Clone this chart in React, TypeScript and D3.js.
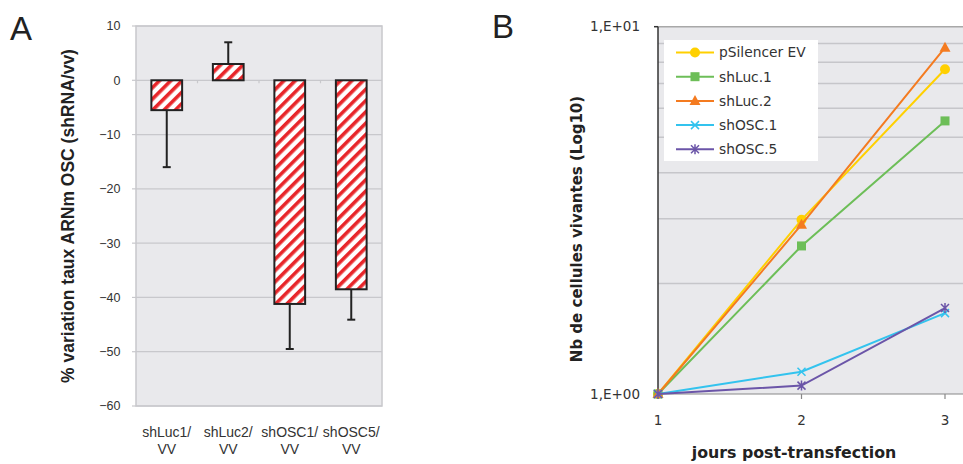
import React from "react";
import * as d3 from "d3";

// Panel A: knockdown of OSC mRNA relative to vv
const categoriesA = ["shLuc1/|VV", "shLuc2/|VV", "shOSC1/|VV", "shOSC5/|VV"];
const valuesA = [-5.5, 3, -41.2, -38.5];
const errorEndsA = [-16, 7, -49.5, -44.1];
const ticksA = [10, 0, -10, -20, -30, -40, -50, -60];

// Panel B: viable cell counts over days post-transfection
const daysB = [1, 2, 3];
const seriesNamesB = ["pSilencer EV", "shLuc.1", "shLuc.2", "shOSC.1", "shOSC.5"];
const pSilencerEV = [1, 2.98, 7.66];
const shLuc1 = [1, 2.53, 5.54];
const shLuc2 = [1, 2.89, 8.77];
const shOSC1 = [1, 1.15, 1.66];
const shOSC5 = [1, 1.054, 1.714];
const seriesValuesB = [pSilencerEV, shLuc1, shLuc2, shOSC1, shOSC5];
const seriesColorsB = ["#FFD000", "#6DBE58", "#F47B20", "#33C3EE", "#6B55A8"];
const seriesMarkersB = ["circle", "square", "triangle", "x", "star"];
const yTickLabelsB = ["1,E+00", "1,E+01"];

const fontA = "'Liberation Sans', Arial, sans-serif";
const fontB = "'DejaVu Sans', Verdana, sans-serif";

function Marker({ kind, x, y, color }: { kind: string; x: number; y: number; color: string }) {
  if (kind === "circle") return <circle cx={x} cy={y} r={5} fill={color} />;
  if (kind === "square") return <rect x={x - 4.5} y={y - 4.5} width={9} height={9} fill={color} />;
  if (kind === "triangle")
    return <path d={`M${x},${y - 6}L${x + 5.5},${y + 4}L${x - 5.5},${y + 4}Z`} fill={color} />;
  if (kind === "x")
    return (
      <path d={`M${x - 4},${y - 4}L${x + 4},${y + 4}M${x - 4},${y + 4}L${x + 4},${y - 4}`} stroke={color} strokeWidth={1.5} />
    );
  return (
    <path
      d={`M${x - 4},${y - 4}L${x + 4},${y + 4}M${x - 4},${y + 4}L${x + 4},${y - 4}M${x},${y - 5}L${x},${y + 5}`}
      stroke={color}
      strokeWidth={1.5}
    />
  );
}

function PanelA() {
  const left = 136, right = 382, top = 26, bottom = 406;
  const y = d3.scaleLinear().domain([-60, 10]).range([bottom, top]);
  const x = d3.scaleBand().domain(categoriesA).range([left, right]).paddingInner(0.5).paddingOuter(0.25);
  const band = d3.scaleBand().domain(categoriesA).range([left, right]);
  const fmt = d3.format("d");
  return (
    <g>
      <defs>
        <pattern id="stripes" patternUnits="userSpaceOnUse" width={8} height={8} patternTransform="rotate(45)">
          <rect width={8} height={8} fill="#ffffff" />
          <rect width={3.6} height={8} fill="#E8262A" />
        </pattern>
      </defs>
      <text x={10} y={40} fontFamily={fontA} fontSize={33} fill="#222">A</text>
      <rect x={left} y={top} width={right - left} height={bottom - top} fill="#E9E9EC" stroke="#C8C8CC" strokeWidth={1.5} />
      {ticksA.map((t) => (
        <g key={t}>
          <line x1={left} x2={right} y1={y(t)} y2={y(t)} stroke="#C8C8CC" strokeWidth={1.2} />
          <line x1={left - 4} x2={left} y1={y(t)} y2={y(t)} stroke="#C8C8CC" strokeWidth={1.2} />
          <text x={120.5} y={y(t)} dy="0.35em" textAnchor="end" fontFamily={fontA} fontSize={12.5} fill="#333">
            {fmt(t)}
          </text>
        </g>
      ))}
      {categoriesA.slice(1).map((c) => (
        <line key={c} x1={band(c)!} x2={band(c)!} y1={y(0)} y2={y(0) + 3} stroke="#C8C8CC" strokeWidth={1.2} />
      ))}
      {categoriesA.map((c, i) => {
        const v = valuesA[i];
        const bx = x(c)!;
        const cx = bx + x.bandwidth() / 2;
        const y0 = y(Math.max(0, v));
        const y1 = y(Math.min(0, v));
        const errFrom = v < 0 ? y1 : y0;
        return (
          <g key={c}>
            <line x1={cx} x2={cx} y1={errFrom} y2={y(errorEndsA[i])} stroke="#222" strokeWidth={2} />
            <line x1={cx - 4} x2={cx + 4} y1={y(errorEndsA[i])} y2={y(errorEndsA[i])} stroke="#222" strokeWidth={2} />
            <rect x={bx} y={y0} width={x.bandwidth()} height={y1 - y0} fill="url(#stripes)" stroke="#222" strokeWidth={2} />
          </g>
        );
      })}
      {categoriesA.map((c) => {
        const [l1, l2] = c.split("|");
        const cx = band(c)! + band.bandwidth() / 2;
        return (
          <text key={c} x={cx} textAnchor="middle" fontFamily={fontA} fontSize={14} fill="#333">
            <tspan x={cx} y={437}>{l1}</tspan>
            <tspan x={cx} y={454}>{l2}</tspan>
          </text>
        );
      })}
      <text
        transform={`translate(74,${216}) rotate(-90)`}
        textAnchor="middle"
        fontFamily={fontA}
        fontWeight="bold"
        fontSize={17.5}
        fill="#222"
      >
        % variation taux ARNm OSC (shRNA/vv)
      </text>
    </g>
  );
}

function PanelB() {
  const left = 658, right = 990, top = 26.7, bottom = 394;
  const x = d3.scaleLinear().domain([1, 3]).range([658, 945]);
  const y = d3.scaleLog().domain([1, 10]).range([bottom, top]);
  const minor = d3.range(2, 10);
  const line = d3
    .line<number>()
    .x((_, i) => x(daysB[i]))
    .y((d) => y(d));
  const legendX = 664, legendY = 40;
  const legendRowY = (i: number) => legendY + 12.5 + i * 24.2;
  return (
    <g>
      <text x={492} y={38} fontFamily={fontA} fontSize={33} fill="#222">B</text>
      <rect x={left} y={top} width={right - left} height={bottom - top} fill="#E9E9EC" />
      {minor.map((m) => (
        <line key={m} x1={left} x2={right} y1={y(m)} y2={y(m)} stroke="#C6C6CA" strokeWidth={1.5} />
      ))}
      <line x1={left} x2={right} y1={top} y2={top} stroke="#A8A8A8" strokeWidth={1.5} />
      <line x1={left} x2={right} y1={bottom} y2={bottom} stroke="#888" strokeWidth={1.2} />
      <line x1={left} x2={left} y1={top} y2={bottom} stroke="#333" strokeWidth={1.5} />
      {[1, 10].map((t, i) => (
        <g key={t}>
          <line x1={left - 4} x2={left} y1={y(t)} y2={y(t)} stroke="#333" strokeWidth={1.5} />
          <text x={640} y={y(t)} dy="0.35em" textAnchor="end" fontFamily={fontB} fontSize={13.5} fill="#333">
            {yTickLabelsB[i]}
          </text>
        </g>
      ))}
      {daysB.map((d) => (
        <g key={d}>
          <line x1={x(d)} x2={x(d)} y1={bottom} y2={bottom + 5} stroke="#888" strokeWidth={1.2} />
          <text x={x(d)} y={425} textAnchor="middle" fontFamily={fontB} fontSize={13.5} fill="#333">
            {d}
          </text>
        </g>
      ))}
      {seriesValuesB.map((vals, s) => (
        <g key={seriesNamesB[s]}>
          <path d={line(vals)!} fill="none" stroke={seriesColorsB[s]} strokeWidth={2} />
          {vals.map((v, i) => (
            <Marker key={i} kind={seriesMarkersB[s]} x={x(daysB[i])} y={y(v)} color={seriesColorsB[s]} />
          ))}
        </g>
      ))}
      <rect x={legendX} y={legendY} width={154} height={121} fill="#ffffff" />
      {seriesNamesB.map((n, i) => (
        <g key={n}>
          <line x1={676} x2={714} y1={legendRowY(i)} y2={legendRowY(i)} stroke={seriesColorsB[i]} strokeWidth={2} />
          <Marker kind={seriesMarkersB[i]} x={695} y={legendRowY(i)} color={seriesColorsB[i]} />
          <text x={719} y={legendRowY(i)} dy="0.35em" fontFamily={fontB} fontSize={13.8} fill="#333">
            {n}
          </text>
        </g>
      ))}
      <text
        transform={`translate(582,${229}) rotate(-90)`}
        textAnchor="middle"
        fontFamily={fontB}
        fontWeight="bold"
        fontSize={15}
        fill="#222"
      >
        Nb de cellules vivantes (Log10)
      </text>
      <text x={794} y={458} textAnchor="middle" fontFamily={fontB} fontWeight="bold" fontSize={15.8} fill="#222">
        jours post-transfection
      </text>
    </g>
  );
}

export default function App() {
  return (
    <svg width={963} height={464} style={{ position: "absolute", left: 0, top: 0, background: "#fff" }}>
      <rect width={963} height={464} fill="#fff" />
      <PanelA />
      <PanelB />
    </svg>
  );
}
